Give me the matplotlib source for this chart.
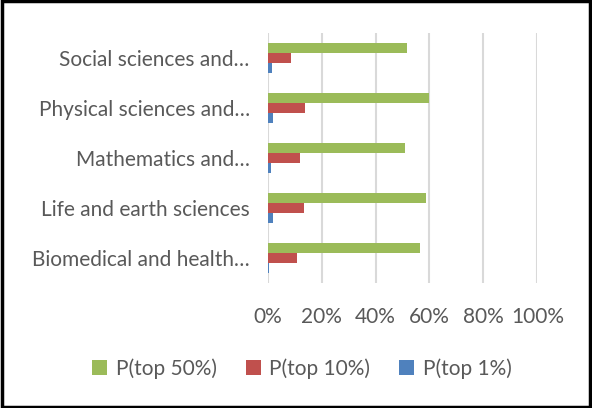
import matplotlib.pyplot as plt
import numpy as np
from matplotlib.patches import Rectangle

categories = ["Biomedical and health…", "Life and earth sciences", "Mathematics and…",
              "Physical sciences and…", "Social sciences and…"]
p_top50 = [56.6, 58.9, 51.0, 60.0, 51.7]
p_top10 = [10.7, 13.4, 11.9, 13.7, 8.7]
p_top1 = [0.5, 2.0, 1.3, 2.0, 1.6]
series_names = ["P(top 50%)", "P(top 10%)", "P(top 1%)"]
colors = ["#9BBB59", "#C0504D", "#4F81BD"]
ticks = [0, 20, 40, 60, 80, 100]

plt.rcParams['font.family'] = ['Lato', 'DejaVu Sans']
txt = "#595959"
fs = 15

fig = plt.figure(figsize=(5.92, 4.08), dpi=100)
ax = fig.add_axes([0.4522, 0.3064, 0.4554, 0.6127])

y = np.arange(len(categories))
h = 0.195
for vals, off, c, name in zip([p_top50, p_top10, p_top1], [h, 0, -h], colors, series_names):
    ax.barh(y + off, vals, height=h, color=c, label=name, zorder=3)

ax.set_xlim(0, 100)
ax.set_ylim(-0.5, len(categories) - 0.5)
ax.set_xticks(ticks)
ax.set_xticklabels([f"{t}%" for t in ticks], fontsize=fs, color=txt)
ax.set_yticks(y)
ax.set_yticklabels(categories, fontsize=fs, color=txt)
ax.tick_params(axis='x', length=0, pad=17.5)
ax.tick_params(axis='y', length=0, pad=13)
ax.grid(axis='x', color="#d9d9d9", linewidth=1.5, zorder=0)
for s in ax.spines.values():
    s.set_visible(False)

fig.legend(loc='center', bbox_to_anchor=(0.51, 0.097), ncol=3, frameon=False,
           fontsize=fs, labelcolor=txt, handlelength=0.72, handleheight=0.72,
           handletextpad=0.4, columnspacing=1.4)

fig.patches.append(Rectangle((0.003, 0.003), 0.994, 0.994, transform=fig.transFigure,
                             fill=False, edgecolor='black', linewidth=2.5))

fig.savefig("out.png", dpi=100)
